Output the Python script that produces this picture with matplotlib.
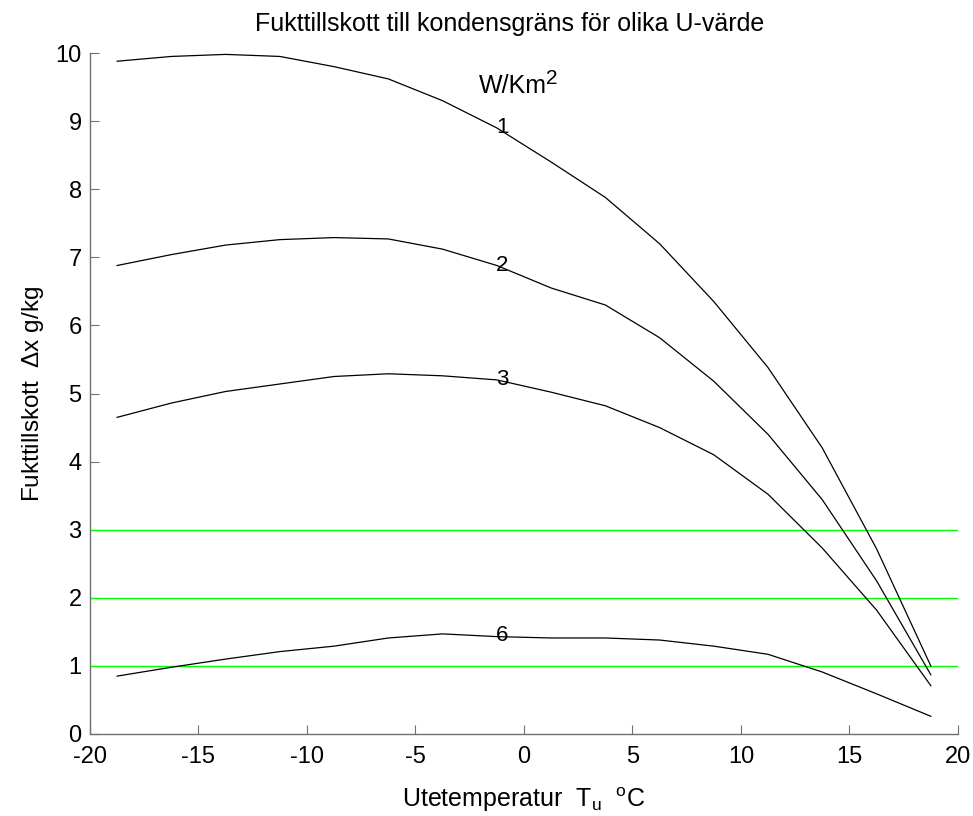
import numpy as np
import matplotlib.pyplot as plt

plt.rcParams['font.family'] = ['Liberation Sans', 'DejaVu Sans']
plt.rcParams['mathtext.fontset'] = 'custom'
plt.rcParams['mathtext.rm'] = 'Liberation Sans'
plt.rcParams['mathtext.it'] = 'Liberation Sans'
plt.rcParams['axes.unicode_minus'] = False

# outdoor temperature (deg C)
temp = [-18.75, -16.25, -13.75, -11.25, -8.75, -6.25, -3.75, -1.25,
        1.25, 3.75, 6.25, 8.75, 11.25, 13.75, 16.25, 18.75]

# moisture surplus to condensation limit, one curve per U-value
u1 = [9.88, 9.95, 9.98, 9.95, 9.80, 9.62, 9.30, 8.90,
      8.40, 7.88, 7.20, 6.35, 5.38, 4.20, 2.72, 1.00]
u2 = [6.88, 7.04, 7.18, 7.26, 7.29, 7.27, 7.12, 6.88,
      6.55, 6.30, 5.82, 5.18, 4.40, 3.44, 2.25, 0.87]
u3 = [4.65, 4.86, 5.03, 5.14, 5.25, 5.29, 5.26, 5.20,
      5.02, 4.82, 4.50, 4.10, 3.52, 2.73, 1.82, 0.71]
u6 = [0.85, 0.98, 1.10, 1.21, 1.29, 1.41, 1.47, 1.43,
      1.41, 1.41, 1.38, 1.29, 1.17, 0.91, 0.59, 0.26]

curve_labels = ['1', '2', '3', '6']
label_y = [8.9, 6.88, 5.2, 1.45]
limits = [1, 2, 3]

fig = plt.figure(figsize=(9.73, 8.16), dpi=100)
ax = fig.add_axes([0.0925, 0.1005, 0.892, 0.8345])

for lim in limits:
    ax.plot([-20, 20], [lim, lim], color='#00ff00', lw=1.0)

for ys in [u1, u2, u3, u6]:
    ax.plot(temp, ys, color='black', lw=0.9)

for lab, y in zip(curve_labels, label_y):
    ax.text(-1.0, y, lab, fontsize=16, ha='center', va='center')

# unit label with a large superscript
unit = ax.text(-2.1, 9.42, 'W/Km', fontsize=18, ha='left', va='baseline')
ax.annotate('2', xy=(1.0, 0.55), xycoords=unit, fontsize=15,
            ha='left', va='baseline')

ax.set_xlim(-20, 20)
ax.set_ylim(0, 10)
ax.set_xticks(np.arange(-20, 21, 5))
ax.set_yticks(np.arange(0, 11, 1))

for side in ['top', 'right']:
    ax.spines[side].set_visible(False)
for side in ['left', 'bottom']:
    ax.spines[side].set_color('#707070')
    ax.spines[side].set_linewidth(1.0)
ax.tick_params(direction='in', length=6.5, color='#707070', labelsize=17)
ax.tick_params(axis='x', pad=9)
ax.tick_params(axis='y', pad=6)

ax.set_title('Fukttillskott till kondensgräns för olika U-värde', fontsize=18, pad=16, x=0.483)
ax.set_xlabel('Utetemperatur  T$_{\\mathrm{u}}$  $^{\\mathrm{o}}$C', fontsize=18, labelpad=12)
ax.set_ylabel('Fukttillskott  $\\Delta$x g/kg', fontsize=17.5, labelpad=7)

fig.savefig('out.png', dpi=100)
